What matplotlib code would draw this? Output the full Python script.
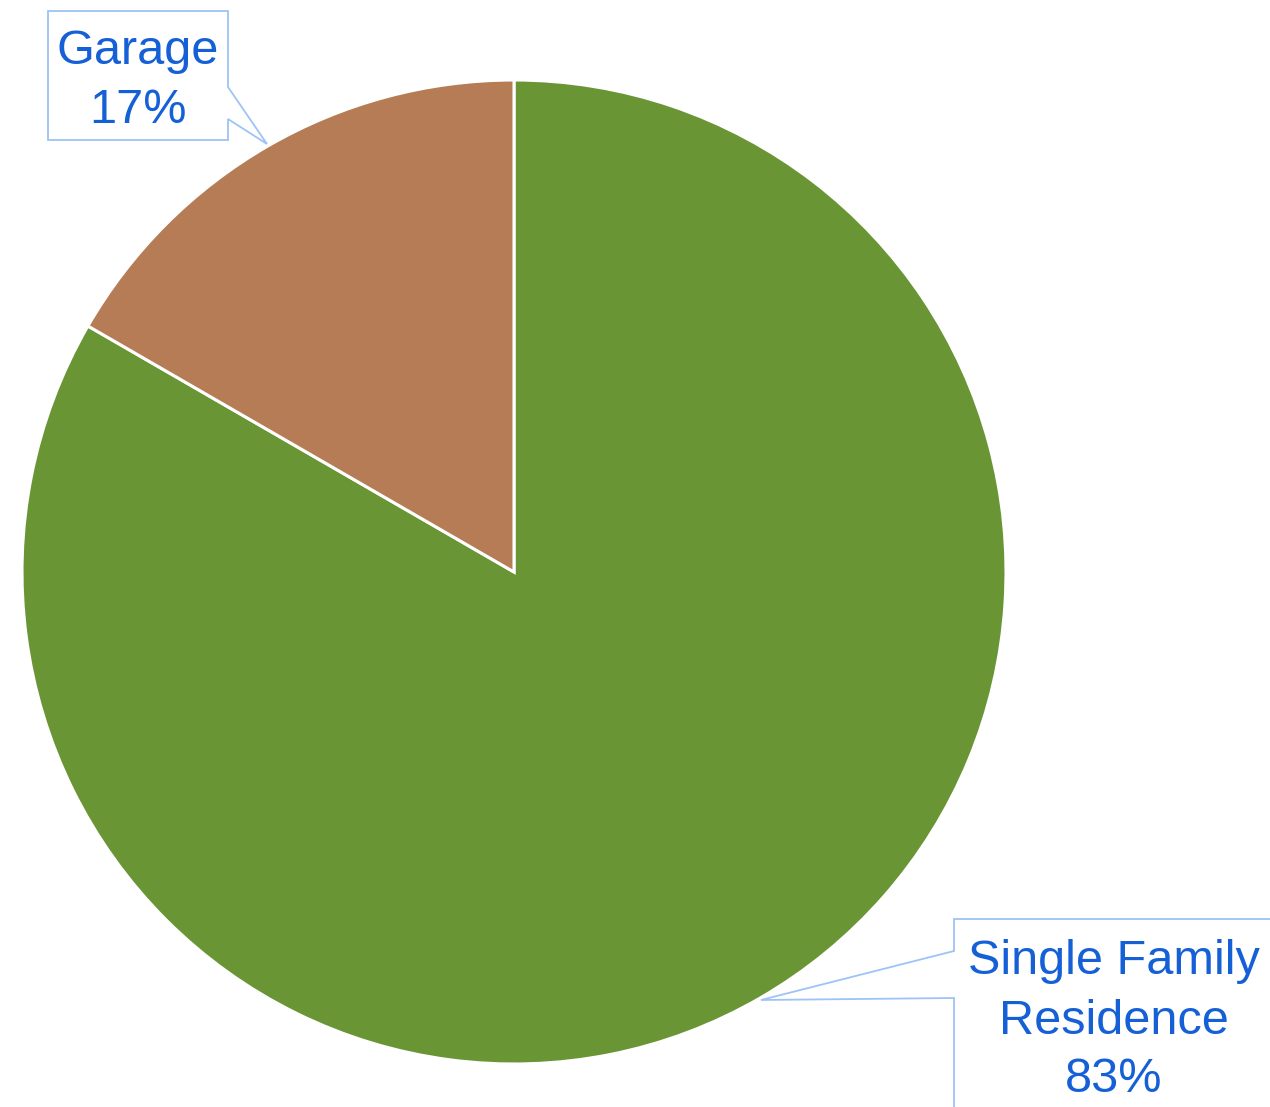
import matplotlib
matplotlib.use("Agg")
import matplotlib.pyplot as plt
from matplotlib.patches import Polygon

categories = ["Single Family Residence", "Garage"]
values = [5, 1]
colors = ["#699535", "#B57C56"]
label_text = ["Single Family\nResidence", "Garage"]

W, H = 1270, 1107
fig = plt.figure(figsize=(W / 100, H / 100), dpi=100)
ax = fig.add_axes([0, 0, 1, 1])

cx, cy, r = 514, H - 572, 492
ax.pie(values, colors=colors, startangle=90, counterclock=False,
       center=(cx, cy), radius=r, frame=True,
       wedgeprops=dict(edgecolor="white", linewidth=2.2))
ax.set_xlim(0, W)
ax.set_ylim(0, H)
ax.set_aspect("equal")
ax.axis("off")

total = sum(values)
pct = [f"{v / total:.0%}" for v in values]

def py(y):
    return H - y

edge = "#9EC3F7"
txt = "#1560D6"

# Garage callout
g_pts = [(48, 11), (228, 11), (228, 87), (267, 144), (228, 119), (228, 140), (48, 140)]
ax.add_patch(Polygon([(x, py(y)) for x, y in g_pts], closed=True,
                     facecolor="white", edgecolor=edge, linewidth=1.3, zorder=5))
ax.text(138, py(81), f"{label_text[1]}\n{pct[1]}", ha="center", va="center",
        fontsize=35, family="Liberation Sans", color=txt, linespacing=1.4, zorder=6)

# Single Family callout
s_pts = [(954, 919), (1290, 919), (1290, 1130), (954, 1130), (954, 998), (761, 1000), (954, 951)]
ax.add_patch(Polygon([(x, py(y)) for x, y in s_pts], closed=True,
                     facecolor="white", edgecolor=edge, linewidth=1.3, zorder=5))
ax.text(1114, py(1021), f"{label_text[0]}\n{pct[0]}", ha="center", va="center",
        fontsize=35, family="Liberation Sans", color=txt, linespacing=1.4, zorder=6)

fig.savefig("out.png", dpi=100, facecolor="white")
